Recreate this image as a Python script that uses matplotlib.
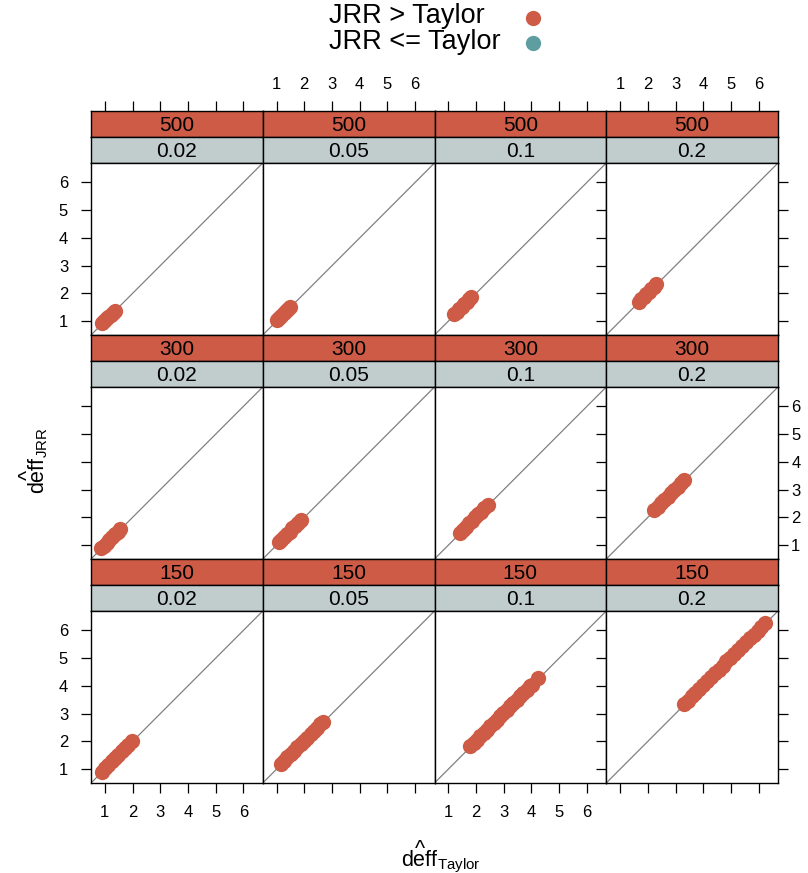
import matplotlib.pyplot as plt
from matplotlib.lines import Line2D

plt.rcParams['font.family'] = ['Liberation Sans', 'DejaVu Sans']
plt.rcParams['mathtext.fontset'] = 'custom'
plt.rcParams['mathtext.rm'] = 'Liberation Sans'
plt.rcParams['mathtext.it'] = 'Liberation Sans:italic'

# panel conditions
sizes = [500, 300, 150]
rates = ['0.02', '0.05', '0.1', '0.2']

# deff Taylor (x) and deff JRR (y)
taylor_500_002 = [0.89, 0.97, 1.05, 1.13, 1.21, 1.28, 1.35]
jrr_500_002 = [0.92, 0.99, 1.08, 1.16, 1.23, 1.31, 1.38]
taylor_500_005 = [1.01, 1.09, 1.17, 1.25, 1.33, 1.41, 1.48]
jrr_500_005 = [1.04, 1.12, 1.19, 1.28, 1.36, 1.43, 1.51]
taylor_500_010 = [1.22, 1.31, 1.40, 1.49, 1.58, 1.67, 1.75, 1.83]
jrr_500_010 = [1.25, 1.33, 1.43, 1.52, 1.60, 1.70, 1.78, 1.86]
taylor_500_020 = [1.67, 1.76, 1.85, 1.94, 2.03, 2.12, 2.21, 2.30]
jrr_500_020 = [1.70, 1.78, 1.88, 1.97, 2.05, 2.15, 2.24, 2.33]

taylor_300_002 = [0.86, 0.96, 1.06, 1.16, 1.26, 1.36, 1.46, 1.56]
jrr_300_002 = [0.89, 0.98, 1.09, 1.19, 1.28, 1.39, 1.49, 1.59]
taylor_300_005 = [1.07, 1.17, 1.27, 1.37, 1.47, 1.57, 1.67, 1.78, 1.89]
jrr_300_005 = [1.10, 1.19, 1.30, 1.40, 1.49, 1.60, 1.70, 1.81, 1.92]
taylor_300_010 = [1.42, 1.53, 1.64, 1.75, 1.86, 1.97, 2.08, 2.19, 2.30, 2.42]
jrr_300_010 = [1.45, 1.55, 1.67, 1.78, 1.88, 2.00, 2.11, 2.21, 2.33, 2.45]
taylor_300_020 = [2.24, 2.36, 2.48, 2.60, 2.72, 2.84, 2.96, 3.08, 3.20, 3.31]
jrr_300_020 = [2.28, 2.39, 2.51, 2.64, 2.75, 2.87, 3.00, 3.11, 3.23, 3.34]

taylor_150_002 = [0.89, 1.01, 1.13, 1.25, 1.37, 1.49, 1.61, 1.73, 1.85, 1.97]
jrr_150_002 = [0.91, 1.04, 1.15, 1.28, 1.39, 1.52, 1.64, 1.75, 1.88, 2.00]
taylor_150_005 = [1.15, 1.27, 1.39, 1.51, 1.63, 1.75, 1.87, 1.99, 2.11, 2.23,
                  2.35, 2.47, 2.58, 2.68]
jrr_150_005 = [1.18, 1.29, 1.42, 1.54, 1.65, 1.78, 1.90, 2.01, 2.14, 2.26,
               2.37, 2.50, 2.61, 2.71]
taylor_150_010 = [1.79, 1.91, 2.03, 2.15, 2.27, 2.39, 2.51, 2.63, 2.75, 2.87,
                  2.99, 3.11, 3.23, 3.35, 3.47, 3.59, 3.71, 3.83, 3.95, 4.02, 4.24]
jrr_150_010 = [1.82, 1.93, 2.06, 2.18, 2.29, 2.42, 2.54, 2.65, 2.78, 2.90,
               3.01, 3.14, 3.26, 3.37, 3.50, 3.62, 3.73, 3.86, 3.98, 4.05, 4.27]
taylor_150_020 = [3.30, 3.44, 3.58, 3.72, 3.86, 4.00, 4.14, 4.28, 4.42, 4.56, 4.70,
                  4.84, 4.98, 5.12, 5.26, 5.40, 5.54, 5.68, 5.82, 5.96, 6.10, 6.24]
jrr_150_020 = [3.34, 3.47, 3.62, 3.75, 3.89, 4.04, 4.17, 4.31, 4.46, 4.59, 4.73,
               4.88, 5.01, 5.15, 5.30, 5.43, 5.57, 5.72, 5.85, 5.99, 6.14, 6.27]

panels = [
    [(taylor_500_002, jrr_500_002), (taylor_500_005, jrr_500_005),
     (taylor_500_010, jrr_500_010), (taylor_500_020, jrr_500_020)],
    [(taylor_300_002, jrr_300_002), (taylor_300_005, jrr_300_005),
     (taylor_300_010, jrr_300_010), (taylor_300_020, jrr_300_020)],
    [(taylor_150_002, jrr_150_002), (taylor_150_005, jrr_150_005),
     (taylor_150_010, jrr_150_010), (taylor_150_020, jrr_150_020)],
]

ticks = [1, 2, 3, 4, 5, 6]
lim = (0.50, 6.70)

red = '#CD5B45'
teal = '#5F9EA0'
strip_grey = '#C1CDCD'

W, H = 808, 873
fig = plt.figure(figsize=(W / 100, H / 100), dpi=100)

col_x = [91, 262.75, 434.5, 606.25, 778]
row_top = [111, 335, 559]
strip_h = 26
panel_h = 172
tick_len = 7.5


def box(x0, x1, ytop, h):
    return [x0 / W, 1 - (ytop + h) / H, (x1 - x0) / W, h / H]


def frame(ax):
    for s in ax.spines.values():
        s.set_linewidth(1.0)
        s.set_color('black')


for r in range(3):
    for c in range(4):
        x0, x1 = col_x[c], col_x[c + 1]
        top = row_top[r]

        # strips
        s1 = fig.add_axes(box(x0, x1, top, strip_h))
        s2 = fig.add_axes(box(x0, x1, top + strip_h, strip_h))
        for s, txt, colr in [(s1, str(sizes[r]), red), (s2, rates[c], strip_grey)]:
            s.set_facecolor(colr)
            s.set_xlim(lim)
            s.set_ylim(0, 1)
            s.set_yticks([])
            s.set_xticks([])
            frame(s)
            s.text(0.5, 0.45, txt, transform=s.transAxes, ha='center',
                   va='center', fontsize=15)

        if r == 0:
            s1.set_xticks(ticks)
            s1.tick_params(axis='x', which='both', top=True, bottom=False,
                           labeltop=(c in (1, 3)), labelbottom=False,
                           direction='out', length=tick_len, width=0.9,
                           labelsize=12, pad=6)

        # panel
        ax = fig.add_axes(box(x0, x1, top + 2 * strip_h, panel_h))
        ax.set_xlim(lim)
        ax.set_ylim(lim)
        frame(ax)
        ax.plot(lim, lim, color='#808080', lw=0.9, zorder=1)
        xs, ys = panels[r][c]
        ax.plot(xs, ys, 'o', color=red, ms=11, mec='none', zorder=2)

        ax.set_xticks(ticks)
        ax.set_yticks(ticks)
        ax.tick_params(axis='both', which='both', length=0, labelbottom=False,
                       labelleft=False, labelsize=12)
        if r == 2:
            ax.tick_params(axis='x', bottom=True, labelbottom=(c in (0, 2)),
                           direction='out', length=tick_len, width=0.9, pad=8)
        if c == 0:
            ax.tick_params(axis='y', left=True, labelleft=(r in (0, 2)),
                           direction='out', length=tick_len, width=0.9, pad=9)
        if c == 3:
            ax.tick_params(axis='y', right=True, labelright=(r == 1),
                           direction='out', length=tick_len, width=0.9, pad=2)

# legend on top
fig.text(329 / W, 1 - 16 / H, 'JRR > Taylor', ha='left', va='center', fontsize=19.5)
fig.text(329 / W, 1 - 42 / H, 'JRR <= Taylor', ha='left', va='center', fontsize=19.5)
fig.add_artist(Line2D([533 / W], [1 - 18 / H], marker='o', ms=11, color=red,
                      mec='none', transform=fig.transFigure))
fig.add_artist(Line2D([533 / W], [1 - 43 / H], marker='o', ms=11, color=teal,
                      mec='none', transform=fig.transFigure))

# axis titles: deff with a caret centred above it
lab_size = 15.5
probe = fig.text(0, 0, r'$\mathrm{deff}$', fontsize=lab_size)
deff_w = probe.get_window_extent(fig.canvas.get_renderer()).width
probe.remove()
caret_lift = 10.5

xl_x, xl_base = 401, 866
fig.text(xl_x / W, 1 - xl_base / H, r'$\mathrm{deff}_{\mathrm{Taylor}}$',
         ha='left', va='baseline', fontsize=lab_size)
fig.text((xl_x + deff_w / 2) / W, 1 - (xl_base - caret_lift) / H, '^',
         ha='center', va='baseline', fontsize=lab_size)

yl_base, yl_start = 44, 494
fig.text(yl_base / W, 1 - yl_start / H, r'$\mathrm{deff}_{\mathrm{JRR}}$',
         ha='left', va='baseline', rotation=90, rotation_mode='anchor',
         fontsize=lab_size)
fig.text((yl_base - caret_lift) / W, 1 - (yl_start - deff_w / 2) / H, '^',
         ha='center', va='baseline', rotation=90, rotation_mode='anchor',
         fontsize=lab_size)

fig.savefig('out.png', dpi=100)
